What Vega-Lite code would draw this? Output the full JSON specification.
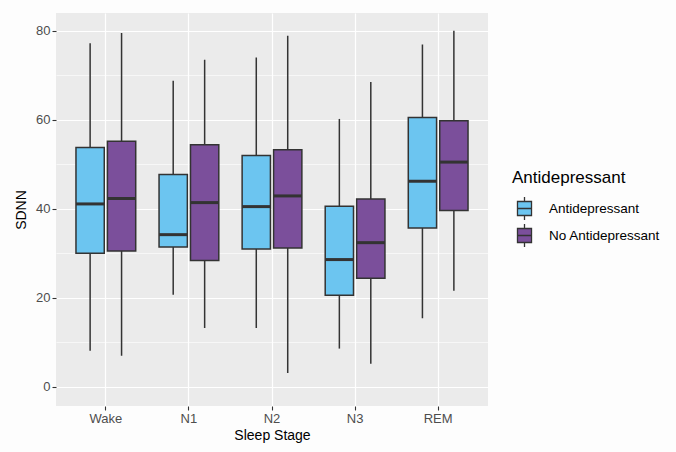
{
  "$schema": "https://vega.github.io/schema/vega-lite/v6.json",
  "autosize": {"type": "none"},
  "width": 432,
  "height": 393,
  "padding": {"left": 56, "top": 13, "right": 188, "bottom": 46},
  "background": "#FDFDFD",
  "config": {
    "font": "Liberation Sans",
    "view": {"fill": "#EBEBEB", "stroke": null},
    "axis": {
      "domain": false,
      "gridColor": "#FFFFFF",
      "tickColor": "#333333",
      "tickSize": 4,
      "tickWidth": 1.1,
      "labelColor": "#4D4D4D",
      "labelFontSize": 13,
      "labelPadding": 2,
      "titleColor": "#000000",
      "titleFontSize": 14,
      "titleFontWeight": "normal"
    }
  },
  "data": {
    "values": [
      {"stage": "Wake", "group": "Antidepressant", "lower": 8.1, "q1": 30.0, "median": 41.1, "q3": 53.8, "upper": 77.2},
      {"stage": "Wake", "group": "No Antidepressant", "lower": 7.0, "q1": 30.5, "median": 42.3, "q3": 55.2, "upper": 79.5},
      {"stage": "N1", "group": "Antidepressant", "lower": 20.7, "q1": 31.4, "median": 34.2, "q3": 47.7, "upper": 68.8},
      {"stage": "N1", "group": "No Antidepressant", "lower": 13.2, "q1": 28.4, "median": 41.4, "q3": 54.4, "upper": 73.5},
      {"stage": "N2", "group": "Antidepressant", "lower": 13.2, "q1": 31.0, "median": 40.5, "q3": 52.0, "upper": 74.0},
      {"stage": "N2", "group": "No Antidepressant", "lower": 3.1, "q1": 31.2, "median": 42.9, "q3": 53.3, "upper": 78.9},
      {"stage": "N3", "group": "Antidepressant", "lower": 8.6, "q1": 20.6, "median": 28.6, "q3": 40.6, "upper": 60.2},
      {"stage": "N3", "group": "No Antidepressant", "lower": 5.2, "q1": 24.4, "median": 32.4, "q3": 42.2, "upper": 68.5},
      {"stage": "REM", "group": "Antidepressant", "lower": 15.4, "q1": 35.7, "median": 46.2, "q3": 60.5, "upper": 76.9},
      {"stage": "REM", "group": "No Antidepressant", "lower": 21.6, "q1": 39.6, "median": 50.5, "q3": 59.8, "upper": 80.0}
    ]
  },
  "encoding": {
    "x": {
      "field": "stage",
      "type": "nominal",
      "sort": ["Wake", "N1", "N2", "N3", "REM"],
      "scale": {"paddingInner": 0, "paddingOuter": 0.1},
      "axis": {"title": "Sleep Stage", "labelAngle": 0, "bandPosition": 0.5, "grid": true, "gridWidth": 1.2, "titlePadding": 3}
    },
    "xOffset": {
      "field": "group",
      "type": "nominal",
      "sort": ["Antidepressant", "No Antidepressant"],
      "scale": {"paddingInner": 0.1, "paddingOuter": 0.371}
    }
  },
  "layer": [
    {
      "mark": {"type": "rule", "color": "#333333", "strokeWidth": 1.5},
      "encoding": {
        "y": {
          "field": "lower",
          "type": "quantitative",
          "scale": {"domain": [-4.3, 84.0], "nice": false, "zero": false},
          "axis": {
            "title": "SDNN",
            "values": [0, 10, 20, 30, 40, 50, 60, 70, 80],
            "labelExpr": "datum.value % 20 === 0 ? datum.label : ''",
            "grid": true,
            "gridWidth": {"condition": {"test": "datum.value % 20 === 0", "value": 1.2}, "value": 0.6},
            "tickOpacity": {"condition": {"test": "datum.value % 20 === 0", "value": 1}, "value": 0},
            "titlePadding": 7
          }
        },
        "y2": {"field": "upper"}
      }
    },
    {
      "mark": {"type": "bar", "stroke": "#333333", "strokeWidth": 1.5},
      "encoding": {
        "y": {"field": "q1", "type": "quantitative"},
        "y2": {"field": "q3"},
        "fill": {
          "field": "group",
          "type": "nominal",
          "sort": ["Antidepressant", "No Antidepressant"],
          "scale": {"domain": ["Antidepressant", "No Antidepressant"], "range": ["#6CC5F0", "#7B4F9B"]},
          "legend": {
            "title": "Antidepressant",
            "orient": "none",
            "legendX": 456,
            "legendY": 157,
            "padding": 0,
            "titleFontSize": 17,
            "titleFontWeight": "normal",
            "titleColor": "#000000",
            "titlePadding": 9,
            "labelFontSize": 13.5,
            "labelColor": "#000000",
            "labelOffset": 12,
            "rowPadding": -3,
            "symbolType": "M-0.61,-0.61H0.61V0.61H-0.61Z M-0.61,0H0.61 M0,-1V-0.61 M0,0.61V1",
            "symbolSize": 529,
            "symbolStrokeColor": "#333333",
            "symbolStrokeWidth": 1.3,
            "symbolOpacity": 1
          }
        }
      }
    },
    {
      "mark": {"type": "tick", "color": "#333333", "size": 28.3, "thickness": 3, "opacity": 1},
      "encoding": {
        "y": {"field": "median", "type": "quantitative"}
      }
    }
  ]
}
